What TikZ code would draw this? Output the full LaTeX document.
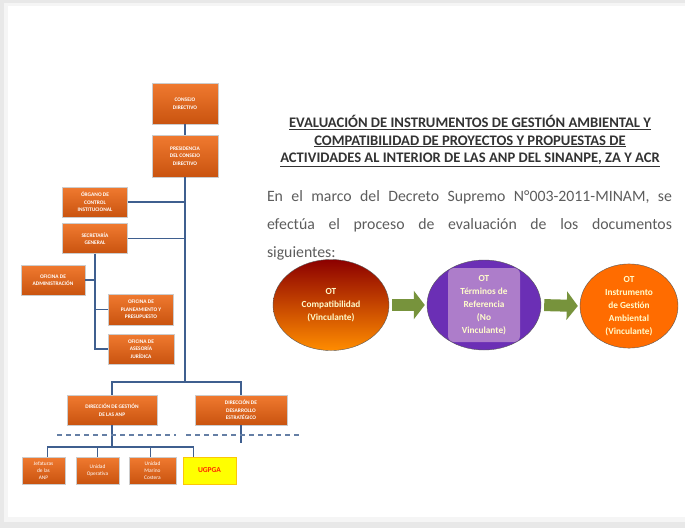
\documentclass[tikz,border=0pt]{standalone}
\usepackage{fontspec}
\setmainfont{Carlito}
\usepackage{xcolor}
\usetikzlibrary{positioning,calc,arrows.meta,shapes.geometric}

\definecolor{orgtop}{HTML}{F07A30}
\definecolor{orgbot}{HTML}{C9530F}
\definecolor{linkblue}{HTML}{3F5F8F}
\definecolor{txtgray}{HTML}{404040}
\definecolor{arrgreen}{HTML}{77933C}
\definecolor{tdrviolet}{HTML}{6B2FB5}

\begin{document}
\begin{tikzpicture}[
    x=1pt, y=-1pt,
    orgbox/.style={
        rectangle,
        draw=gray!40,
        top color=orgtop,
        bottom color=orgbot,
        align=center,
        inner sep=1pt,
        text=white,
        font=\fontsize{5.4}{7.5}\selectfont\bfseries
    },
    unitbox/.style={
        orgbox,
        minimum width=43pt,
        minimum height=27pt,
        font=\fontsize{5.4}{7}\selectfont
    },
    link/.style={draw=linkblue, line width=1.4pt},
    sepline/.style={draw=linkblue!80, line width=1.4pt, dash pattern=on 5pt off 4pt},
    docnode/.style={
        ellipse,
        draw=gray!70!black,
        align=center,
        inner sep=0pt,
        text=white!80!yellow,
        font=\fontsize{9.3}{13}\selectfont\bfseries
    },
    flow/.style={
        draw=arrgreen,
        line width=12pt,
        shorten <=3pt,
        shorten >=2pt,
        -{Triangle[length=11pt,width=28pt]}
    }
]

\useasboundingbox (0,0) rectangle (685,528);

% ------------------------------------------------------------
% Frame
% ------------------------------------------------------------

\fill[gray!18] (0,0) rectangle (685,528);
\fill[gray!8] (4,3) rectangle (685,522);
\fill[white] (8,6) rectangle (685,517);

% ------------------------------------------------------------
% Organigrama
% ------------------------------------------------------------

\node[orgbox, minimum width=66pt, minimum height=41pt] (cd) at (185,103.5)
    {CONSEJO\\DIRECTIVO};

\node[orgbox, minimum width=66pt, minimum height=42pt] (pcd) at (185,156)
    {PRESIDENCIA\\DEL CONSEJO\\DIRECTIVO};

\node[orgbox, minimum width=65pt, minimum height=30pt] (oci) at (95,202)
    {ÓRGANO DE\\CONTROL\\INSTITUCIONAL};

\node[orgbox, minimum width=65pt, minimum height=30pt] (sg) at (95,238.5)
    {SECRETARÍA\\GENERAL};

\node[orgbox, minimum width=64pt, minimum height=30pt] (oa) at (53,280)
    {OFICINA DE\\ADMINISTRACIÓN};

\node[orgbox, minimum width=65pt, minimum height=31pt] (opp) at (141,309.5)
    {OFICINA DE\\PLANEAMIENTO Y\\PRESUPUESTO};

\node[orgbox, minimum width=66pt, minimum height=30pt] (oaj) at (141,349)
    {OFICINA DE\\ASESORÍA\\JURÍDICA};

\node[orgbox, minimum width=90pt, minimum height=30pt] (dganp) at (112,410)
    {DIRECCIÓN DE GESTIÓN\\DE LAS ANP};

\node[orgbox, minimum width=92pt, minimum height=30pt] (dde) at (241,410)
    {DIRECCIÓN DE\\DESARROLLO\\ESTRATÉGICO};

\node[unitbox] (jef) at (43.5,470.5) {Jefaturas\\de las\\ANP};
\node[unitbox] (uop) at (97.5,470.5) {Unidad\\Operativa};
\node[unitbox, minimum width=47pt] (umc) at (152.5,470.5) {Unidad\\Marino\\Costera};
\node[unitbox, minimum width=53pt, top color=yellow, bottom color=yellow,
    draw=yellow!60!orange, text=red!70!orange, font=\fontsize{7.5}{8}\selectfont\bfseries]
    (ugpga) at (209.5,470.5) {UGPGA};

\coordinate (bus) at (185,382);
\coordinate (sub) at (112,447);

% ------------------------------------------------------------
% Links
% ------------------------------------------------------------

\draw[link] (cd.south) -- (pcd.north);
\draw[link] (pcd.south) -- (bus);
\draw[link] (oci.east) -- (oci.east -| pcd.south);
\draw[link] (sg.east) -- (sg.east -| pcd.south);
\draw[link] (sg.south) |- (oaj.west);
\draw[link] (oa.east) -- (oa.east -| sg.south);
\draw[link] (opp.west) -- (opp.west -| sg.south);
\draw[link] (dganp.north) |- (bus) -| (dde.north);
\draw[link] (dde.south) -- ++(0,18);
\draw[link] (dganp.south) -- (sub);
\draw[link] ([xshift=4pt]jef.north) |- (sub) -| ([xshift=-16pt]ugpga.north);
\draw[link] (uop.north) -- (uop.north |- sub);
\draw[link] ([xshift=-2pt]umc.north) -- ([xshift=-2pt]umc.north |- sub);

\draw[sepline] (57,435) -- (176,435);
\draw[sepline] (186,435) -- (302,435);

% ------------------------------------------------------------
% Title and text
% ------------------------------------------------------------

\node[align=center, font=\fontsize{14.6}{17.5}\selectfont\bfseries, text=txtgray!80!black]
    (title) at (470,141)
    {\underline{EVALUACIÓN DE INSTRUMENTOS DE GESTIÓN AMBIENTAL Y}\\
     \underline{COMPATIBILIDAD DE PROYECTOS Y PROPUESTAS DE}\\
     \underline{ACTIVIDADES AL INTERIOR DE LAS ANP DEL SINANPE, ZA Y ACR}};

\node[text width=405pt, align=justify, inner sep=0pt, text=txtgray!85,
    font=\fontsize{15.8}{28}\selectfont]
    (intro) at (469.5,225)
    {En el marco del Decreto Supremo N°003-2011-MINAM, se\linebreak
     efectúa el proceso de evaluación de los documentos\linebreak
     \mbox{siguientes:}};

% ------------------------------------------------------------
% Documents
% ------------------------------------------------------------

\node[docnode, minimum width=116pt, minimum height=91pt,
    top color=red!55!black, middle color=red!85!orange, bottom color=orange!90!yellow]
    (compat) at (331,305) {OT\\Compatibilidad\\(Vinculante)};

\node[docnode, minimum width=114pt, minimum height=90pt, fill=tdrviolet,
    path picture={\fill[violet!30!white, opacity=0.6, rounded corners=6pt]
        ([xshift=-36pt,yshift=-37pt]path picture bounding box.center) rectangle
        ([xshift=36pt,yshift=37pt]path picture bounding box.center);}]
    (tdr) at (484,305) {OT\\Términos de\\Referencia\\(No\\Vinculante)};

\node[docnode, minimum width=98pt, minimum height=82pt, fill=orange!85!red]
    (iga) at (629,306) {OT\\Instrumento\\de Gestión\\Ambiental\\(Vinculante)};

\draw[flow] (compat.east) -- (tdr.west);
\draw[flow] (tdr.east) -- (iga.west);

\end{tikzpicture}
\end{document}
